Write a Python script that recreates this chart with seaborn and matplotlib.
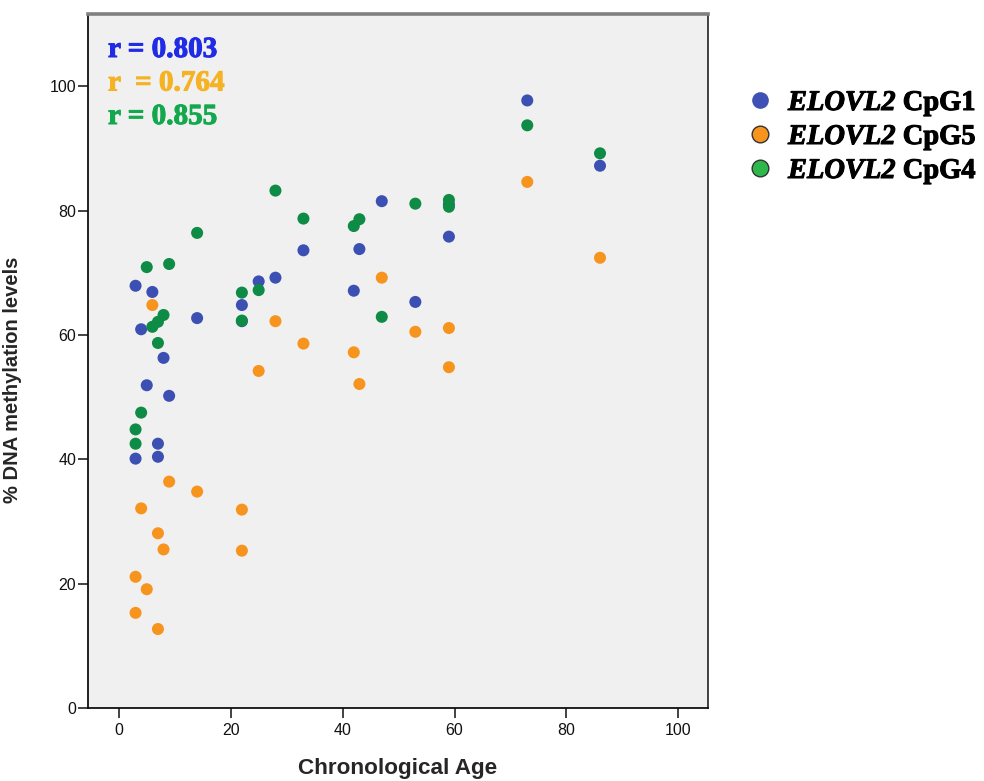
import numpy as np
import pandas as pd
import matplotlib
matplotlib.use("Agg")
import matplotlib.pyplot as plt
from matplotlib.lines import Line2D
import matplotlib.patheffects as pe
import seaborn as sns

# Ages of the donors and % methylation at each ELOVL2 CpG site
ages = [3, 3, 4, 5, 6, 7, 7, 8, 9, 14, 22, 22, 25, 28, 33, 42, 43, 47, 53, 59, 59, 73, 86]
cpg1 = [40.1, 67.9, 60.9, 51.9, 66.9, 42.5, 40.4, 56.3, 50.2, 62.7, 64.8, 62.2,
        68.6, 69.2, 73.6, 67.1, 73.8, 81.5, 65.3, 75.8, 81.0, 97.7, 87.2]
cpg5 = [21.1, 15.3, 32.1, 19.1, 64.8, 28.1, 12.7, 25.5, 36.4, 34.8, 31.9, 25.3,
        54.2, 62.2, 58.6, 57.2, 52.1, 69.2, 60.5, 61.1, 54.8, 84.6, 72.4]
cpg4 = [44.8, 42.5, 47.5, 70.9, 61.3, 62.1, 58.7, 63.2, 71.4, 76.4, 66.8, 62.3,
        67.2, 83.2, 78.7, 77.5, 78.6, 62.9, 81.1, 81.7, 80.6, 93.7, 89.2]

sites = ["CpG1", "CpG5", "CpG4"]
r_labels = ["r = 0.803", "r  = 0.764", "r = 0.855"]
x_ticks = [0, 20, 40, 60, 80, 100]
y_ticks = [0, 20, 40, 60, 80, 100]

point_colors = {"CpG1": "#3C50B4", "CpG5": "#F7941E", "CpG4": "#0E8B44"}
legend_colors = {"CpG1": "#3F51B5", "CpG5": "#F7941D", "CpG4": "#2EB84B"}
legend_edges = {"CpG1": "none", "CpG5": "#333333", "CpG4": "#333333"}
r_colors = ["#1F2BE6", "#F5B324", "#13A84E"]

df = pd.concat([
    pd.DataFrame({"age": ages, "meth": vals, "site": s})
    for s, vals in zip(sites, [cpg1, cpg5, cpg4])
], ignore_index=True)

sns.set_style("white")

sans = ["Liberation Sans", "DejaVu Sans"]
serif = ["Liberation Serif", "DejaVu Serif"]


def heavy(color):
    """Same-colour outline that gives the serif captions a heavier stroke."""
    return [pe.withStroke(linewidth=0.75, foreground=color)]


fig = plt.figure(figsize=(9.84, 7.81), dpi=100)
ax = fig.add_axes([88 / 984, 1 - 708 / 781, 620 / 984, 694 / 781])
ax.set_facecolor("#F0F0F0")

sns.scatterplot(data=df, x="age", y="meth", hue="site", hue_order=sites,
                palette=point_colors, s=75, linewidth=0, legend=False, ax=ax)

ax.set_xlim(-5.5, 105.3)
ax.set_ylim(0, 111.6)
ax.set_xticks(x_ticks)
ax.set_yticks(y_ticks)
ax.set_xticklabels([str(v) for v in x_ticks], family=sans, fontsize=11.5)
ax.set_yticklabels([str(v) for v in y_ticks], family=sans, fontsize=11.5)
ax.tick_params(axis="both", direction="out", length=7, width=1.2, color="#222222",
               labelcolor="#111111")
ax.tick_params(axis="x", pad=3.5, bottom=True)
ax.tick_params(axis="y", pad=1.5, left=True)

for side in ["left", "bottom"]:
    ax.spines[side].set_color("#111111")
    ax.spines[side].set_linewidth(1.3)
ax.spines["right"].set_color("#333333")
ax.spines["right"].set_linewidth(1.3)
ax.spines["top"].set_color("#808080")
ax.spines["top"].set_linewidth(2.6)

ax.set_xlabel("Chronological Age", family=sans, fontsize=16.2, fontweight="bold")
ax.set_ylabel("% DNA methylation levels", family=sans, fontsize=14.5, fontweight="bold")
ax.xaxis.set_label_coords(0.5, -0.072)
ax.yaxis.set_label_coords(-0.106, 0.473)

# correlation coefficients in the upper-left corner
for i, (lab, col) in enumerate(zip(r_labels, r_colors)):
    base_px = 57 + i * 33.5
    fig.text(108 / 984, 1 - base_px / 781, lab, color=col, family=serif,
             fontsize=21, fontweight="bold", va="baseline", ha="left",
             path_effects=heavy(col))

# legend: circle marker, italic gene name, upright site name
for i, s in enumerate(sites):
    cy = 100 + i * 34
    fig.add_artist(Line2D([760 / 984], [1 - cy / 781], transform=fig.transFigure,
                          marker="o", markersize=12, linestyle="none",
                          markerfacecolor=legend_colors[s],
                          markeredgecolor=legend_edges[s], markeredgewidth=1.0))
    t1 = fig.text(788 / 984, 1 - (cy + 10) / 781, "ELOVL2", family=serif,
                  fontsize=20.5, fontweight="bold", style="italic",
                  va="baseline", ha="left", color="black",
                  path_effects=heavy("black"))
    ax.annotate(" " + s, xy=(1, 0), xycoords=t1, xytext=(0, 0),
                textcoords="offset points", family=serif, fontsize=20.5,
                fontweight="bold", va="bottom", ha="left", color="black",
                annotation_clip=False, path_effects=heavy("black"))

fig.savefig("out.png", dpi=100)
